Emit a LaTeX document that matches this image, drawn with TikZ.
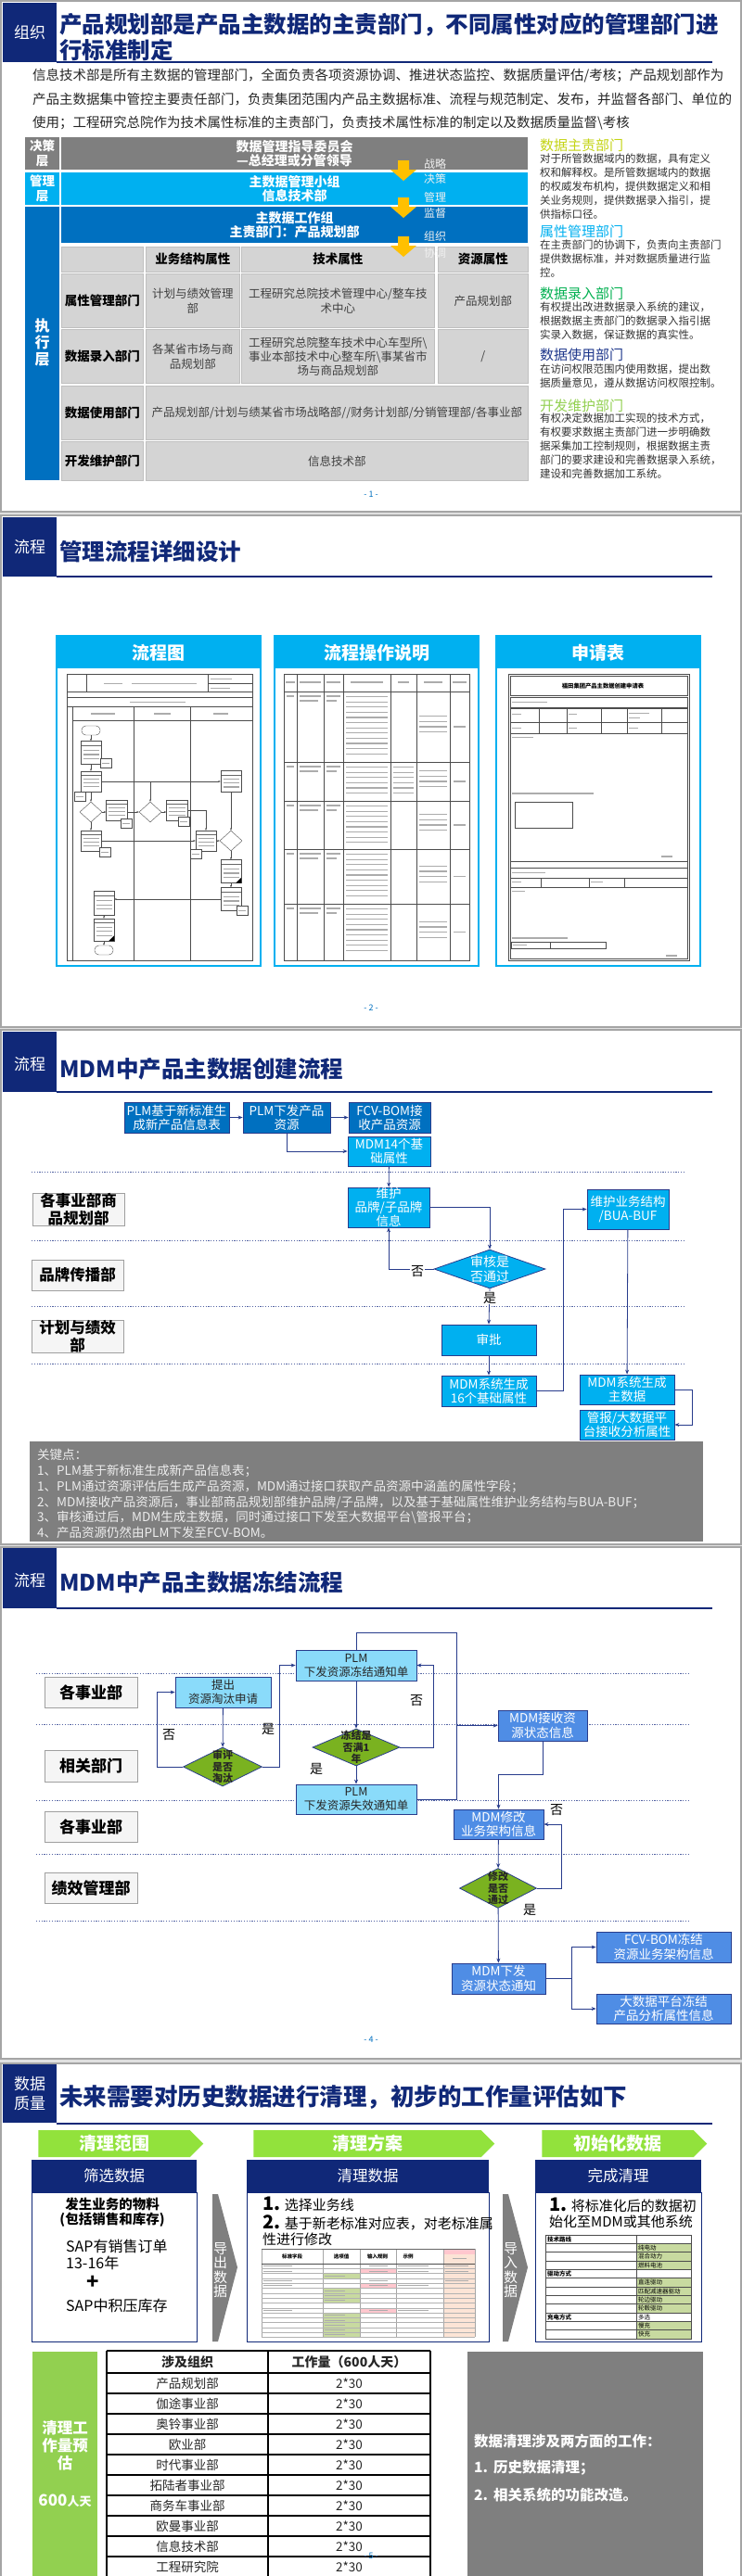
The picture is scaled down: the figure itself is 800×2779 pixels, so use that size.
\documentclass[tikz,border=0pt]{standalone}
\usepackage{fontspec}
\setmainfont{Noto Sans CJK SC}
\usetikzlibrary{arrows.meta,shapes.geometric,shapes.symbols,calc}
\newcommand{\fsz}[2]{\fontsize{#1}{#2}\selectfont}
\definecolor{navy}{RGB}{16,40,120}
\definecolor{cyanB}{RGB}{0,176,240}
\definecolor{blueB}{RGB}{0,112,192}
\definecolor{grayB}{RGB}{127,127,127}
\definecolor{yel}{RGB}{255,192,0}
\definecolor{cellg}{RGB}{212,212,212}
\definecolor{lineB}{RGB}{40,60,140}
\definecolor{lcyan}{RGB}{138,219,250}
\definecolor{mblue}{RGB}{79,141,229}
\definecolor{dgreen}{RGB}{122,178,32}
\definecolor{lime}{RGB}{146,226,60}
\definecolor{sgreen}{RGB}{146,208,80}
\definecolor{frameg}{RGB}{165,165,165}
\definecolor{hYel}{RGB}{196,212,20}
\definecolor{hGrn}{RGB}{0,176,80}
\definecolor{hNav}{RGB}{31,56,140}
\definecolor{xgreen}{RGB}{200,218,160}
\definecolor{xpink}{RGB}{255,199,206}
\definecolor{xpeach}{RGB}{252,228,214}
\tikzset{
  slide/.style={draw=frameg, line width=1.5pt, fill=white},
  tlab/.style={text=white, font=\fsz{17}{21}, align=center, inner sep=0},
  ttl/.style={text=navy, font=\fsz{24.5}{29}\bfseries, anchor=west, inner sep=0},
  uline/.style={draw=navy, line width=2pt},
  body/.style={font=\fsz{14.5}{18}, anchor=west, inner sep=0, text=black!85},
  wtxt/.style={text=white, font=\fsz{13.5}{16}\bfseries, align=center, inner sep=0},
  cell/.style={draw=gray!50, fill=cellg, line width=0.6pt, inner sep=1pt, align=center, anchor=north west, font=\fsz{12.5}{16}, text=black!75},
  hcell/.style={cell, font=\fsz{13.5}{16}\bfseries, text=black},
  arlab/.style={text=white!94!black, font=\fsz{12}{14}, inner sep=0},
  rhead/.style={font=\fsz{15}{18}, anchor=west, inner sep=0},
  rbody/.style={font=\fsz{11.5}{15}, anchor=north west, align=left, inner sep=0, text=black!80},
  pgnum/.style={text=blueB, font=\fsz{9}{10}, inner sep=0},
  phead/.style={text=white, font=\fsz{19}{21}\bfseries, inner sep=0},
  fl/.style={draw=black!70, line width=0.4pt},
  tb/.style={draw=gray!65, line width=1.2pt},
  fcbox/.style={fl, fill=white, inner sep=0, path picture={
     \coordinate (pa) at (path picture bounding box.north west);
     \coordinate (pb) at (path picture bounding box.south east);
     \draw[black!60, line width=0.3pt] ($(pa)!0.18!(pa|-pb)$) -- ($(pb|-pa)!0.18!(pb)$);
     \foreach \k in {0.4,0.58,0.76} \draw[gray!70, line width=1.1pt] ($(pa)!\k!(pa|-pb)+(2.5,0)$) -- ($(pb|-pa)!\k!(pb)+(-2.5,0)$);}},
  fcdoc/.style={fl, fill=white, inner sep=0, minimum width=12pt, minimum height=10pt},
  fcdia/.style={fl, shape=diamond, fill=white, inner sep=0, minimum width=24pt, minimum height=22pt},
  fcov/.style={fl, fill=white, rounded corners=4.5pt, inner sep=0, minimum width=20pt, minimum height=10pt},
  fcar/.style={fl, -{Stealth[length=2.5pt,width=2pt]}},
  fb/.style={draw=lineB, line width=0.8pt, text=white, font=\fsz{13.5}{15}, align=center, inner sep=0},
  dbox/.style={fb, fill=blueB},
  cbox/.style={fb, fill=cyanB},
  conn/.style={draw=lineB, line width=0.8pt},
  arr/.style={conn, -{Stealth[length=5pt,width=4pt]}},
  dotl/.style={draw=lineB!80, line width=0.9pt, dash pattern=on 1.2pt off 1.6pt},
  lane/.style={draw=gray!75, fill=gray!8, line width=0.8pt, font=\fsz{16.5}{19}\bfseries, align=center, inner sep=0, minimum width=99pt},
  ylab/.style={font=\fsz{14}{14}, inner sep=1pt, fill=white},
  lbox/.style={draw=lineB, line width=0.8pt, fill=lcyan, text=black!85, font=\fsz{12.5}{15}, align=center, inner sep=0},
  mbox/.style={draw=lineB, line width=0.8pt, fill=mblue, text=white, font=\fsz{13.5}{15.5}, align=center, inner sep=0},
  gdia/.style={shape=diamond, draw=lineB, line width=0.8pt, fill=dgreen, inner sep=0},
  dtxt/.style={font=\fsz{11}{12.5}\bfseries, text=black!85, align=center, inner sep=0},
  chev/.style={shape=signal, signal to=east, signal from=nowhere, fill=lime, text=white, font=\fsz{19}{21}\bfseries, inner sep=0, minimum height=29pt},
  nhead/.style={fill=navy, text=white, font=\fsz{16.5}{19}, inner sep=0, minimum height=35pt},
  garr/.style={fill=grayB},
  tcell/.style={font=\fsz{13.5}{16}, inner sep=0, text=black!85},
}
\begin{document}
\begin{tikzpicture}[x=1pt,y=-1pt]
\useasboundingbox (0,0) rectangle (800,2779);
\clip (0,0) rectangle (800,2779);
\fill[black!12] (0,0) rectangle (800,2779);

%%%%%%%%%%%%%%%% SLIDE 1
\draw[slide] (1,1) rectangle (799,552);
\fill[navy] (3,3) rectangle (61,67);
\node[tlab] (s1lab) at (32,35) {组织};
\draw[uline] (61,67) -- (768,67);
\node[ttl] (s1t1) at (64,27) {产品规划部是产品主数据的主责部门，不同属性对应的管理部门进};
\node[ttl] (s1t2) at (64,54) {行标准制定};
\node[body] (s1b1) at (35,82) {信息技术部是所有主数据的管理部门，全面负责各项资源协调、推进状态监控、数据质量评估/考核；产品规划部作为};
\node[body] (s1b2) at (35,107) {产品主数据集中管控主要责任部门，负责集团范围内产品主数据标准、流程与规范制定、发布，并监督各部门、单位的};
\node[body] (s1b3) at (35,133) {使用；工程研究总院作为技术属性标准的主责部门，负责技术属性标准的制定以及数据质量监督\textbackslash 考核};

\fill[grayB] (27,148) rectangle (64,183);
\node[wtxt] (jc) at (45.5,165.5) {决策\\层};
\fill[grayB] (66,148) rectangle (569,183);
\node[wtxt, font=\fsz{14}{15}\bfseries] (ldr) at (317.5,166) {数据管理指导委员会\\—总经理或分管领导};
\fill[cyanB] (27,186) rectangle (64,221);
\node[wtxt] (gl) at (45.5,203.5) {管理\\层};
\fill[cyanB] (66,186) rectangle (569,221);
\node[wtxt, font=\fsz{14}{15}\bfseries] (mg) at (317.5,204) {主数据管理小组\\信息技术部};
\fill[blueB] (27,223) rectangle (64,518);
\node[wtxt, font=\fsz{16}{18}\bfseries] (zx) at (45.5,370) {执\\行\\层};
\fill[blueB] (66,223) rectangle (569,262);
\node[wtxt, font=\fsz{14}{15}\bfseries] (wg) at (317.5,243) {主数据工作组\\主责部门：产品规划部};

\node[cell, minimum width=88pt, minimum height=27pt] (h0) at (66,266) {};
\node[hcell, minimum width=101pt, minimum height=27pt] (h1) at (157,266) {业务结构属性};
\node[hcell, minimum width=208pt, minimum height=27pt] (h2) at (260,266) {技术属性};
\node[hcell, minimum width=97pt, minimum height=27pt] (h3) at (472,266) {资源属性};
\node[hcell, minimum width=88pt, minimum height=58pt] (r1a) at (66,295) {属性管理部门};
\node[cell, minimum width=101pt, minimum height=58pt] (r1b) at (157,295) {计划与绩效管理\\部};
\node[cell, minimum width=208pt, minimum height=58pt] (r1c) at (260,295) {工程研究总院技术管理中心/整车技\\术中心};
\node[cell, minimum width=97pt, minimum height=58pt] (r1d) at (472,295) {产品规划部};
\node[hcell, minimum width=88pt, minimum height=58pt] (r2a) at (66,355) {数据录入部门};
\node[cell, minimum width=101pt, minimum height=58pt] (r2b) at (157,355) {各某省市场与商\\品规划部};
\node[cell, minimum width=208pt, minimum height=58pt, font=\fsz{12.5}{15}] (r2c) at (260,355) {工程研究总院整车技术中心车型所\textbackslash\\事业本部技术中心整车所\textbackslash 事某省市\\场与商品规划部};
\node[cell, minimum width=97pt, minimum height=58pt] (r2d) at (472,355) {/};
\node[hcell, minimum width=88pt, minimum height=58pt] (r3a) at (66,416) {数据使用部门};
\node[cell, minimum width=412pt, minimum height=58pt] (r3b) at (157,416) {产品规划部/计划与绩某省市场战略部//财务计划部/分销管理部/各事业部};
\node[hcell, minimum width=88pt, minimum height=42pt] (r4a) at (66,476) {开发维护部门};
\node[cell, minimum width=412pt, minimum height=42pt] (r4b) at (157,476) {信息技术部};

\foreach \yy in {173,213,255}{
  \fill[yel] (429,\yy) -- (441,\yy) -- (441,\yy+10) -- (449,\yy+10) -- (435,\yy+22) -- (421,\yy+10) -- (429,\yy+10) -- cycle;
}
\node[arlab] (la1) at (469,177) {战略};
\node[arlab] (la2) at (469,193) {决策};
\node[arlab] (la3) at (469,213) {管理};
\node[arlab] (la4) at (469,230) {监督};
\node[arlab] (la5) at (469,255) {组织};
\node[arlab] (la6) at (469,273) {协调};

\node[rhead, text=hYel] (rh1) at (582,157) {数据主责部门};
\node[rbody] (rb1) at (582,166) {对于所管数据域内的数据，具有定义\\权和解释权。是所管数据域内的数据\\的权威发布机构，提供数据定义和相\\关业务规则，提供数据录入指引，提\\供指标口径。};
\node[rhead, text=cyanB] (rh2) at (582,250) {属性管理部门};
\node[rbody] (rb2) at (582,259) {在主责部门的协调下，负责向主责部门\\提供数据标准，并对数据质量进行监\\控。};
\node[rhead, text=hGrn] (rh3) at (582,317) {数据录入部门};
\node[rbody] (rb3) at (582,326) {有权提出改进数据录入系统的建议，\\根据数据主责部门的数据录入指引据\\实录入数据，保证数据的真实性。};
\node[rhead, text=hNav] (rh4) at (582,383) {数据使用部门};
\node[rbody] (rb4) at (582,393) {在访问权限范围内使用数据，提出数\\据质量意见，遵从数据访问权限控制。};
\node[rhead, text=sgreen] (rh5) at (582,438) {开发维护部门};
\node[rbody] (rb5) at (582,446) {有权决定数据加工实现的技术方式，\\有权要求数据主责部门进一步明确数\\据采集加工控制规则，根据数据主责\\部门的要求建设和完善数据录入系统，\\建设和完善数据加工系统。};
\node[pgnum] (pg1) at (400,533) {- 1 -};

%%%%%%%%%%%%%%%% SLIDE 2
\draw[slide] (1,556) rectangle (799,1108);
\fill[navy] (3,558) rectangle (61,622);
\node[tlab] (s2lab) at (32,590) {流程};
\draw[uline] (61,622) -- (768,622);
\node[ttl] (s2t) at (64,595) {管理流程详细设计};
\foreach \px/\pt/\pn in {61/流程图/pa1, 296/流程操作说明/pa2, 535/申请表/pa3}{
  \draw[cyanB, line width=2pt, fill=white] (\px,686) rectangle (\px+220,1042);
  \fill[cyanB] (\px,686) rectangle (\px+220,721);
  \node[phead] (\pn) at (\px+110,704) {\pt};
}
% panel 1 : flowchart
\draw[fl, line width=0.6pt] (72,727) rectangle (272,1036);
\draw[fl] (93,727) -- (93,746) (224,727) -- (224,746) (224,737) -- (272,737) (72,746) -- (272,746);
\draw[tb, line width=1pt] (112,737) -- (132,737) (142,737) -- (212,737) (227,732) -- (250,732) (227,742) -- (248,742);
\draw[fl] (72,752) rectangle (272,762);
\draw[tb, line width=1pt] (140,757) -- (200,757);
\draw[fl] (72,762) rectangle (272,1036);
\draw[fl] (78,762) -- (78,1036) (144,762) -- (144,1036) (205,762) -- (205,1036) (78,777) -- (272,777);
\draw[tb, line width=1.2pt] (98,770) -- (124,770) (166,770) -- (184,770) (230,770) -- (246,770);
\node[fcov] (fs) at (98,788) {};
\node[fcbox, minimum width=22pt, minimum height=25pt] (f1) at (98,812) {};
\node[fcbox, minimum width=22pt, minimum height=22pt] (f2) at (98,843) {};
\node[fcbox, minimum width=22pt, minimum height=23pt] (fr1) at (249,843) {};
\node[fcdia] (fd1) at (98,876) {};
\node[fcbox, minimum width=23pt, minimum height=22pt] (f3) at (126,874) {};
\node[fcdia] (fd2) at (162,876) {};
\node[fcbox, minimum width=23pt, minimum height=22pt] (f4) at (191,874) {};
\node[fcbox, minimum width=22pt, minimum height=22pt] (f5) at (222,907) {};
\node[fcdia] (fd3) at (249,907) {};
\node[fcbox, minimum width=22pt, minimum height=22pt] (f6) at (98,907) {};
\node[fcbox, minimum width=22pt, minimum height=25pt] (f7) at (249,940) {};
\node[fcbox, minimum width=22pt, minimum height=25pt] (f8) at (249,970) {};
\node[fcbox, minimum width=22pt, minimum height=26pt] (f9) at (112,974) {};
\node[fcbox, minimum width=22pt, minimum height=24pt] (f10) at (112,1003) {};
\node[fcov] (fe) at (112,1025) {};
\fill[black] (f7.south east) -- ++(-6,0) -- ++(6,-6) -- cycle;
\fill[black] (f10.south east) -- ++(-6,0) -- ++(6,-6) -- cycle;
\foreach \dx/\dy/\dn in {114/823/dc1, 86/859/dc2, 136/888/dc3, 198/886/dc4, 211/921/dc5, 113/919/dc6, 261/982/dc7}{
  \node[fcdoc] (\dn) at (\dx,\dy) {};
  \draw[gray!70, line width=0.9pt] (\dx-4,\dy) -- (\dx+4,\dy);
}
\draw[fcar] (fs) -- (f1);
\draw[fcar] (f1) -- (f2);
\draw[fcar] (f2.east) -- (fr1.west);
\draw[fcar] (fd2.north |- f2.east) -- (fd2.north);
\draw[fcar] (f2) -- (fd1);
\draw[fcar] (fd1.east) -- (f3.west |- fd1.east);
\draw[fcar] (f3.east |- fd2.west) -- (fd2.west);
\draw[fcar] (fd2.east) -- (f4.west |- fd2.east);
\draw[fcar] (f4.east) -| (f5.north);
\draw[fcar] (f5.east) -- (fd3.west);
\draw[fcar] (fr1) -- (fd3);
\draw[fcar] (fd1) -- (f6);
\draw[fcar] (f6.east) -- (f5.west);
\draw[fcar] (fd3) -- (f7);
\draw[fcar] (f7) -- (f8);
\draw[fcar] (f8.west) -- (f9.east |- f8.west);
\draw[fcar] (f9) -- (f10);
\draw[fcar] (f10) -- (fe);
% panel 2 : table
\draw[fl, line width=0.7pt] (306,727) rectangle (506,1036);
\foreach \xx in {320,349,370,421,449,485} \draw[fl] (\xx,727) -- (\xx,1036);
\foreach \yy in {746,822,864,916,975} \draw[fl, line width=0.6pt] (306,\yy) -- (506,\yy);
\foreach \xa/\xb in {308/318,323/346,352/367,378/413,429/441,457/477,488/503} \draw[tb] (\xa,736) -- (\xb,736);
\foreach \t/\b in {746/822,822/864,864/916,916/975,975/1036}{
  \draw[tb] (309,\t+5) -- (317,\t+5);
  \draw[tb] (323,\t+5) -- (346,\t+5);
  \draw[tb] (323,\t+10) -- (343,\t+10);
  \draw[tb] (352,\t+5) -- (367,\t+5);
  \draw[tb] (352,\t+10) -- (363,\t+10);
  \pgfmathtruncatemacro{\nn}{floor((\b-\t-6)/5.6)}
  \foreach \i in {1,...,\nn} \draw[tb] (373,\t+\i*5.6) -- (418,\t+\i*5.6);
  \foreach \i in {-2,...,1} \draw[tb] (452,{(\t+\b)/2+\i*5.6}) -- (482,{(\t+\b)/2+\i*5.6});
  \draw[tb] (489,{(\t+\b)/2}) -- (502,{(\t+\b)/2});
}
\foreach \i in {1,...,6} \draw[tb] (424,822+\i*5.6) -- (446,822+\i*5.6);
% panel 3 : form
\draw[black!70, line width=1pt] (548,727) rectangle (743,1036);
\draw[fl] (550,729) rectangle (741,750);
\node[font=\fsz{6.3}{7}\bfseries, inner sep=0] (ftitle) at (650,740) {福田集团产品主数据创建申请表};
\draw[fl] (550,752) rectangle (741,763);
\draw[tb, line width=0.9pt] (552,757.5) -- (590,757.5);
\draw[fl] (550,764) rectangle (741,791);
\draw[fl] (550,779) -- (741,779);
\foreach \xx in {581,611,648,676,713} \draw[fl] (\xx,764) -- (\xx,791);
\draw[tb, line width=1pt] (552,770) -- (562,770) (613,770) -- (622,770) (678,769) -- (700,769) (678,774) -- (690,774) (552,785) -- (562,785) (613,785) -- (622,785) (678,785) -- (688,785);
\draw[fl] (550,791) rectangle (741,929);
\draw[tb, line width=1.1pt] (552,795.5) -- (575,795.5) (552,856) -- (640,856) (713,924) -- (725,924);
\draw[fl] (555,865) rectangle (617,893);
\draw[fl] (550,929) rectangle (741,936);
\draw[fl] (550,936) rectangle (741,947);
\draw[tb, line width=0.9pt] (552,941.5) -- (588,941.5);
\draw[fl] (550,947) rectangle (741,957);
\foreach \xx in {583,635,673} \draw[fl] (\xx,947) -- (\xx,957);
\draw[tb, line width=1pt] (552,951.5) -- (562,951.5) (637,951.5) -- (650,951.5);
\draw[fl] (550,957) rectangle (741,1034);
\draw[tb, line width=1.1pt] (552,961.5) -- (566,961.5) (552,1012) -- (612,1012) (718,1031) -- (730,1031);
\draw[fl] (551,1016) rectangle (653,1023);
\draw[fl] (593,1016) -- (593,1023);
\draw[tb, line width=0.9pt] (553,1019.5) -- (568,1019.5);
\node[pgnum] (pg2) at (400,1087) {- 2 -};

%%%%%%%%%%%%%%%% SLIDE 3
\draw[slide] (1,1111) rectangle (799,1666);
\fill[navy] (3,1113) rectangle (61,1178);
\node[tlab] (s3lab) at (32,1148) {流程};
\draw[uline] (61,1178) -- (768,1178);
\node[ttl] (s3t) at (64,1153) {MDM中产品主数据创建流程};
\foreach \yy in {1264,1338,1409,1471} \draw[dotl] (34,\yy) -- (737,\yy);
\node[lane, minimum height=34pt] (L1) at (84.5,1305) {各事业部商\\品规划部};
\node[lane, minimum height=33pt] (L2) at (83.5,1375.5) {品牌传播部};
\node[lane, minimum height=33pt] (L3) at (83.5,1441.5) {计划与绩效\\部};
\node[dbox, minimum width=113pt, minimum height=33pt] (A) at (190.5,1205.5) {PLM基于新标准生\\成新产品信息表};
\node[dbox, minimum width=94pt, minimum height=33pt] (B) at (309,1205.5) {PLM下发产品\\资源};
\node[dbox, minimum width=88pt, minimum height=33pt] (C) at (420,1205.5) {FCV-BOM接\\收产品资源};
\node[cbox, minimum width=89pt, minimum height=32pt] (D) at (419.5,1242) {MDM14个基\\础属性};
\node[cbox, minimum width=88pt, minimum height=43pt] (E) at (419,1302.5) {维护\\品牌/子品牌\\信息};
\node[cbox, minimum width=88pt, minimum height=43pt] (F) at (677,1304.5) {维护业务结构\\/BUA-BUF};
\node[shape=diamond, draw=lineB, line width=0.8pt, fill=cyanB, inner sep=0, minimum width=120pt, minimum height=42pt] (Dia) at (528,1369) {};
\node[wtxt, font=\fsz{14}{15.5}] (Diat) at (Dia.center) {审核是\\否通过};
\node[cbox, minimum width=102pt, minimum height=33pt] (SP) at (527,1445.5) {审批};
\node[cbox, minimum width=102pt, minimum height=33pt] (G) at (527,1500.5) {MDM系统生成\\16个基础属性};
\node[cbox, minimum width=102pt, minimum height=32pt] (H) at (676,1499) {MDM系统生成\\主数据};
\node[cbox, minimum width=102pt, minimum height=32pt] (I) at (676,1537) {管报/大数据平\\台接收分析属性};
\draw[arr] (A) -- (B);
\draw[arr] (B) -- (C);
\draw[arr] (B.south) |- (D.west);
\draw[arr] (D) -- (E);
\draw[arr] (E.east) -| (Dia.north);
\draw[arr] (Dia.west) -| (E.south);
\node[ylab] (no1) at (450,1372) {否};
\draw[arr] (Dia.south) -- (SP.north);
\node[ylab] (yes1) at (528,1400) {是};
\draw[arr] (SP) -- (G);
\draw[arr] (G.east) -- ++(29,0) |- (F.west);
\draw[arr] (F) -- (H);
\draw[arr] (H.east) -- ++(19,0) |- (I.east);
\fill[grayB] (32,1555) rectangle (758,1663);
\node[font=\fsz{13.5}{16.8}, anchor=north west, align=left, inner sep=0, text=white!93!black] (key) at (40,1563) {关键点：\\1、PLM基于新标准生成新产品信息表；\\1、PLM通过资源评估后生成产品资源，MDM通过接口获取产品资源中涵盖的属性字段；\\2、MDM接收产品资源后，事业部商品规划部维护品牌/子品牌，以及基于基础属性维护业务结构与BUA-BUF；\\3、审核通过后，MDM生成主数据，同时通过接口下发至大数据平台\textbackslash 管报平台；\\4、产品资源仍然由PLM下发至FCV-BOM。};

%%%%%%%%%%%%%%%% SLIDE 4
\draw[slide] (1,1669) rectangle (799,2221);
\fill[navy] (3,1670) rectangle (61,1735);
\node[tlab] (s4lab) at (32,1705) {流程};
\draw[uline] (61,1735) -- (768,1735);
\node[ttl] (s4t) at (64,1707) {MDM中产品主数据冻结流程};
\foreach \yy in {1805,1860,1942,2000,2072} \draw[dotl] (39,\yy) -- (744,\yy);
\node[lane, minimum width=100pt, minimum height=33pt, font=\fsz{17}{19}\bfseries] (M1) at (98,1825.5) {各事业部};
\node[lane, minimum width=100pt, minimum height=34pt, font=\fsz{17}{19}\bfseries] (M2) at (98,1905) {相关部门};
\node[lane, minimum width=100pt, minimum height=33pt, font=\fsz{17}{19}\bfseries] (M3) at (98,1970.5) {各事业部};
\node[lane, minimum width=100pt, minimum height=33pt, font=\fsz{17}{19}\bfseries] (M4) at (98,2036.5) {绩效管理部};
\node[lbox, minimum width=130pt, minimum height=33pt] (PF) at (384,1796.5) {PLM\\下发资源冻结通知单};
\node[lbox, minimum width=103pt, minimum height=33pt] (TC) at (240.5,1825.5) {提出\\资源淘汰申请};
\node[gdia, minimum width=85pt, minimum height=42pt] (DA) at (240,1906) {};
\node[dtxt] (DAt) at (DA.center) {审评\\是否\\淘汰};
\node[gdia, minimum width=94pt, minimum height=40pt] (DB) at (384,1885) {};
\node[dtxt] (DBt) at (DB.center) {冻结是\\否满1\\年};
\node[lbox, minimum width=130pt, minimum height=32pt] (PI) at (384,1941) {PLM\\下发资源失效通知单};
\node[mbox, minimum width=96pt, minimum height=33pt] (MR) at (585,1861.5) {MDM接收资\\源状态信息};
\node[mbox, minimum width=97pt, minimum height=32pt] (MM) at (537.5,1968) {MDM修改\\业务架构信息};
\node[gdia, minimum width=83pt, minimum height=43pt] (DC) at (537,2037) {};
\node[dtxt] (DCt) at (DC.center) {修改\\是否\\通过};
\node[mbox, minimum width=101pt, minimum height=33pt] (MX) at (537.5,2134.5) {MDM下发\\资源状态通知};
\node[mbox, minimum width=145pt, minimum height=33pt] (J) at (715.5,2100.5) {FCV-BOM冻结\\资源业务架构信息};
\node[mbox, minimum width=145pt, minimum height=32pt] (K) at (715.5,2167) {大数据平台冻结\\产品分析属性信息};
\draw[arr] (TC) -- (DA);
\draw[arr] (DA.west) -- ++(-28,0) |- (TC.west);
\node[ylab, fill=none] (no2) at (182,1872) {否};
\draw[arr] (DA.east) -- ++(18.5,0) |- (PF.west);
\node[ylab, fill=none] (yes2) at (289,1865) {是};
\draw[arr] (PF) -- (DB);
\draw[arr] (DB.east) -- ++(36,0) |- (PF.east);
\node[ylab, fill=none] (no3) at (449,1835) {否};
\draw[arr] (DB) -- (PI);
\node[ylab, fill=none] (yes3) at (341,1908) {是};
\draw[conn] (PF.north) -- ++(0,-18) -| (492,1941) -- (PI.east);
\coordinate (jn) at (492,1861.5);
\draw[arr] (jn) -- (MR.west);
\draw[arr] (MR.south) -- ++(0,36) -| (MM.north);
\draw[arr] (MM) -- (DC);
\draw[arr] (DC.east) -- ++(26,0) |- (MM.east);
\node[ylab, fill=none] (no4) at (600,1953) {否};
\node[ylab, fill=none] (yes4) at (571,2060) {是};
\draw[arr] (DC) -- (MX);
\draw[arr] (MX.east) -- ++(28,0) |- (J.west);
\draw[arr] (MX.east) -- ++(28,0) |- (K.west);
\node[pgnum] (pg4) at (400,2200) {- 4 -};

%%%%%%%%%%%%%%%% SLIDE 5
\draw[slide] (1,2226) rectangle (799,2800);
\fill[navy] (3,2227) rectangle (61,2290);
\node[tlab] (s5lab) at (32,2258) {数据\\质量};
\draw[uline] (61,2291) -- (768,2291);
\node[ttl, font=\fsz{25.5}{29}\bfseries] (s5t) at (64,2262) {未来需要对历史数据进行清理，初步的工作量评估如下};
\node[chev, minimum width=178pt] (c1) at (123,2312.5) {清理范围};
\node[chev, minimum width=260pt] (c2) at (396,2312.5) {清理方案};
\node[chev, minimum width=178pt] (c3) at (666,2312.5) {初始化数据};
\node[nhead, minimum width=178pt] (n1) at (123,2347.5) {筛选数据};
\node[nhead, minimum width=261pt] (n2) at (396.5,2347.5) {清理数据};
\node[nhead, minimum width=179pt] (n3) at (666.5,2347.5) {完成清理};
\draw[navy, line width=1pt, fill=white] (34,2365) rectangle (212,2526);
\draw[navy, line width=1pt, fill=white] (266,2365) rectangle (527,2526);
\draw[navy, line width=1pt, fill=white] (577,2365) rectangle (756,2526);
\fill[garr] (229,2367) -- (235,2367) -- (256,2446) -- (235,2526) -- (229,2526) -- cycle;
\node[text=white, font=\fsz{15}{15.5}, align=center, inner sep=0] (ex) at (237.5,2449) {导\\出\\数\\据};
\fill[garr] (542,2367) -- (548,2367) -- (569,2446) -- (548,2526) -- (542,2526) -- cycle;
\node[text=white, font=\fsz{15}{15.5}, align=center, inner sep=0] (im) at (550.5,2449) {导\\入\\数\\据};
% panel 1
\node[font=\fsz{14.5}{17}\bfseries, inner sep=0] (p1a) at (121,2378) {发生业务的物料};
\node[font=\fsz{14.5}{17}\bfseries, inner sep=0] (p1b) at (121,2395) {(包括销售和库存)};
\node[font=\fsz{16}{18}, anchor=west, inner sep=0] (p1c) at (71,2423) {SAP有销售订单};
\node[font=\fsz{16}{18}, anchor=west, inner sep=0] (p1d) at (71,2441) {13-16年};
\node[font=\fsz{22}{22}\bfseries, inner sep=0] (p1e) at (100,2462) {+};
\node[font=\fsz{16}{18}, anchor=west, inner sep=0] (p1f) at (71,2487) {SAP中积压库存};
% panel 2
\node[font=\fsz{15}{18}, anchor=west, inner sep=0] (p2a) at (283,2378) {{\fsz{20}{20}\bfseries 1.} 选择业务线};
\node[font=\fsz{15}{18}, anchor=west, inner sep=0] (p2b) at (283,2398) {{\fsz{20}{20}\bfseries 2.} 基于新老标准对应表，对老标准属};
\node[font=\fsz{15}{18}, anchor=west, inner sep=0] (p2c) at (283,2416) {性进行修改};
\fill[xpeach] (478,2426) rectangle (512,2521);
\fill[xpink] (478,2426) rectangle (512,2432);
\foreach \i in {2,5,6,7,10,11,12,13,14} \fill[xgreen] (348,2442+\i*5.3) rectangle (388,2442+\i*5.3+5.3);
\foreach \i in {1,4,9} \fill[xpink] (388,2442+\i*5.3) rectangle (427,2442+\i*5.3+5.3);
\foreach \xx in {282,348,388,427,478,512} \draw[gray!70, line width=0.4pt] (\xx,2426) -- (\xx,2521);
\draw[black!60, line width=0.5pt] (282,2426) -- (512,2426);
\foreach \i in {0,...,15} \draw[gray!60, line width=0.3pt] (282,2442+\i*5.3) -- (512,2442+\i*5.3);
\draw[black!70, line width=0.8pt] (282,2442) -- (512,2442);
\node[font=\fsz{5.5}{6}\bfseries, inner sep=0] (sh1) at (315,2434) {标准字段};
\node[font=\fsz{5.5}{6}\bfseries, inner sep=0] (sh2) at (368,2434) {选项值};
\node[font=\fsz{5.5}{6}\bfseries, inner sep=0] (sh3) at (407,2434) {输入规则};
\node[font=\fsz{5.5}{6}\bfseries, inner sep=0] (sh4) at (440,2434) {示例};
\draw[tb, line width=1pt] (488,2436) -- (503,2436);
\foreach \i in {0,1,3,4,9} \draw[tb, line width=0.9pt] (284,2444.65+\i*5.3) -- (315,2444.65+\i*5.3);
\foreach \i in {0,1,3,4,9} \draw[tb, line width=0.9pt] (398,2444.65+\i*5.3) -- (418,2444.65+\i*5.3);
\foreach \i in {0,1,4,9} \draw[tb, line width=0.9pt] (429,2444.65+\i*5.3) -- (462,2444.65+\i*5.3);
\foreach \i in {0,1,3} \draw[tb, line width=0.9pt] (480,2444.65+\i*5.3) -- (505,2444.65+\i*5.3);
\foreach \i in {2,5,6,7,10,11,12,13,14} \draw[tb, line width=0.9pt] (350,2444.65+\i*5.3) -- (372,2444.65+\i*5.3);
% panel 3
\node[font=\fsz{15}{18}, anchor=west, inner sep=0] (p3a) at (592,2379) {{\fsz{20}{20}\bfseries 1.} 将标准化后的数据初};
\node[font=\fsz{15}{18}, anchor=west, inner sep=0] (p3b) at (592,2397) {始化至MDM或其他系统};
\foreach \i/\la/\lb/\g in {0/技术路线//0, 1//纯电动/1, 2//混合动力/1, 3//燃料电池/1, 4/驱动方式//0, 5//直连驱动/1, 6//匹配减速器驱动/1, 7//轮边驱动/1, 8//轮毂驱动/1, 9/充电方式/多选/0, 10//慢充/1, 11//快充/1}{
  \ifnum\g=1 \fill[xgreen] (686,2411+\i*9.33) rectangle (745,2411+\i*9.33+9.33); \fi
  \draw[black!70, line width=0.4pt] (588,2411+\i*9.33) rectangle (686,2411+\i*9.33+9.33);
  \draw[black!70, line width=0.4pt] (686,2411+\i*9.33) rectangle (745,2411+\i*9.33+9.33);
  \node[font=\fsz{6.5}{7}\bfseries, anchor=west, inner sep=0] at (590,2415.7+\i*9.33) {\la};
  \node[font=\fsz{6.5}{7}, anchor=west, inner sep=0] at (688,2415.7+\i*9.33) {\lb};
}
% bottom
\fill[sgreen] (35,2537) rectangle (105,2800);
\node[text=white, font=\fsz{16.5}{19}\bfseries, align=center, inner sep=0] (gw1) at (70,2638) {清理工\\作量预\\估};
\node[text=white, font=\fsz{17}{19}\bfseries, inner sep=0] (gw2) at (70,2698) {600{\fsz{13}{15}人天}};
\foreach \yy in {2536,2560,2582,2604,2626,2648,2670,2692,2714,2736,2758,2780} \draw[black, line width=1.2pt] (115,\yy) -- (464,\yy);
\foreach \xx in {115,289,464} \draw[black, line width=1.2pt] (\xx,2536) -- (\xx,2790);
\node[tcell, font=\fsz{14}{16}\bfseries] (th1) at (202,2548) {涉及组织};
\node[tcell, font=\fsz{14}{16}\bfseries] (th2) at (376.5,2548) {工作量（600人天）};
\foreach \i/\org in {0/产品规划部,1/伽途事业部,2/奥铃事业部,3/欧业部,4/时代事业部,5/拓陆者事业部,6/商务车事业部,7/欧曼事业部,8/信息技术部,9/工程研究院}{
  \node[tcell] (to\i) at (202,2571+\i*22) {\org};
  \node[tcell] (tv\i) at (376.5,2571+\i*22) {2*30};
}
\fill[grayB] (504,2537) rectangle (758,2800);
\node[text=white, font=\fsz{15.5}{18}\bfseries, anchor=west, inner sep=0] (gb1) at (511,2633) {数据清理涉及两方面的工作：};
\node[text=white, font=\fsz{15.5}{18}\bfseries, anchor=west, inner sep=0] (gb2) at (511,2662) {1.\hspace{6pt}历史数据清理；};
\node[text=white, font=\fsz{15.5}{18}\bfseries, anchor=west, inner sep=0] (gb3) at (511,2692) {2.\hspace{6pt}相关系统的功能改造。};
\node[pgnum] (pg5) at (400,2757) {- 5 -};
\end{tikzpicture}
\end{document}
